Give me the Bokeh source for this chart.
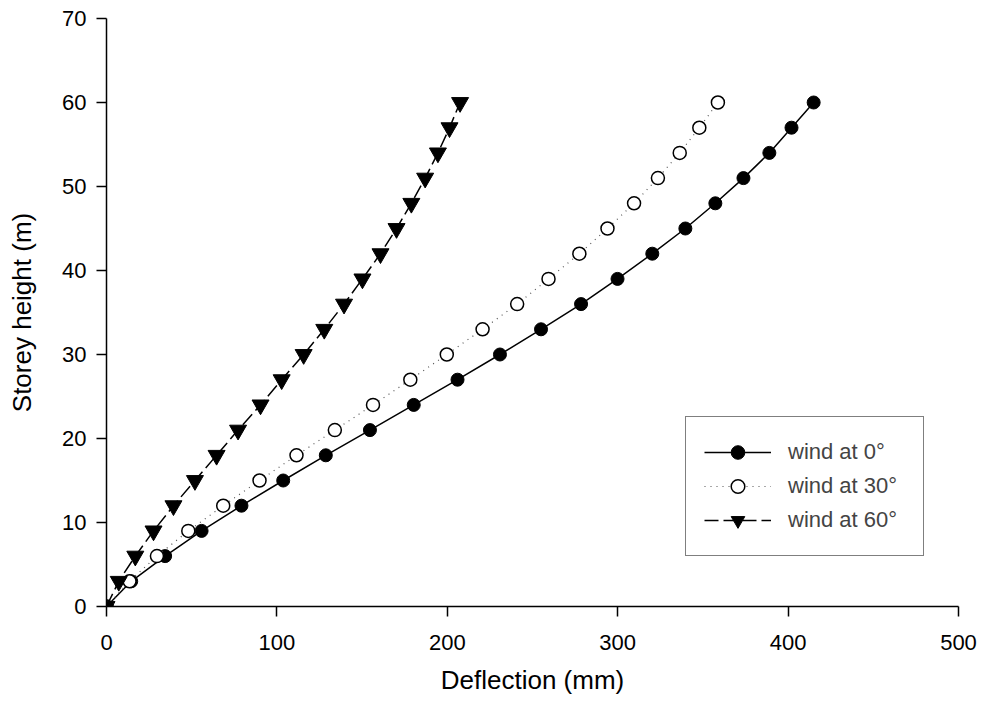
from bokeh.plotting import figure
from bokeh.models import Legend, LegendItem
from bokeh.embed import file_html
from bokeh.resources import INLINE

heights = [0, 3, 6, 9, 12, 15, 18, 21, 24, 27, 30, 33, 36, 39, 42, 45, 48, 51, 54, 57, 60]
wind_0 = [0, 14.5, 34.4, 55.8, 79.2, 103.7, 128.7, 154.6, 180.3, 206.0, 230.9,
          255.0, 278.5, 299.9, 320.3, 339.7, 357.3, 373.8, 389.0, 402.0, 415.0]
wind_30 = [0, 13.5, 29.6, 48.0, 68.5, 89.8, 111.5, 134.0, 156.4, 178.3, 199.7,
           220.7, 241.0, 259.4, 277.5, 294.0, 309.6, 323.6, 336.4, 347.9, 358.8]
wind_60 = [0, 7.2, 16.9, 27.6, 39.3, 51.9, 64.6, 77.2, 90.4, 102.8, 115.7,
           127.8, 139.4, 150.2, 160.8, 170.2, 178.9, 187.0, 194.5, 201.3, 207.5]
labels = ["wind at 0°", "wind at 30°", "wind at 60°"]
x_ticks = [0, 100, 200, 300, 400, 500]
y_ticks = [0, 10, 20, 30, 40, 50, 60, 70]

FONT = "Liberation Sans"

p = figure(width=977, height=703, x_range=(0, 500), y_range=(0, 70),
           output_backend="svg", toolbar_location=None,
           min_border_left=106, min_border_right=19,
           min_border_top=18, min_border_bottom=97)

r0l = p.line(wind_0, heights, line_color="black", line_width=1.5)
r0s = p.scatter(wind_0, heights, marker="circle", size=13,
                fill_color="black", line_color="black", line_width=1)
r30l = p.line(wind_30, heights, line_color="#555555", line_width=1.2, line_dash="1 5")
r30s = p.scatter(wind_30, heights, marker="circle", size=13,
                 fill_color="white", line_color="black", line_width=1.5)
r60l = p.line(wind_60, heights, line_color="black", line_width=1.5, line_dash="14 5")
r60s = p.scatter(wind_60, heights, marker="inverted_triangle", size=17,
                 fill_color="black", line_color="black", line_width=1)

legend = Legend(items=[
    LegendItem(label=labels[0], renderers=[r0l, r0s]),
    LegendItem(label=labels[1], renderers=[r30l, r30s]),
    LegendItem(label=labels[2], renderers=[r60l, r60s]),
], location=(579, 50))
legend.border_line_color = "black"
legend.border_line_width = 1.5
legend.padding = 18
legend.spacing = 0
legend.margin = 0
legend.label_height = 34
legend.glyph_height = 34
legend.glyph_width = 67
legend.label_width = 117
legend.label_standoff = 17
legend.label_text_font = FONT
legend.label_text_font_size = "22px"
legend.background_fill_color = "white"
legend.background_fill_alpha = 1
p.add_layout(legend, "center")

p.xaxis.ticker = x_ticks
p.yaxis.ticker = y_ticks
p.xaxis.axis_label = "Deflection (mm)"
p.yaxis.axis_label = "Storey height (m)"
for ax in (p.xaxis, p.yaxis):
    ax.axis_line_color = "black"
    ax.axis_line_width = 1.5
    ax.major_tick_line_color = "black"
    ax.major_tick_line_width = 1.5
    ax.major_tick_out = 10
    ax.major_tick_in = 0
    ax.minor_tick_line_color = None
    ax.major_label_text_font = FONT
    ax.major_label_text_font_size = "22px"
    ax.major_label_text_color = "black"
    ax.axis_label_text_font = FONT
    ax.axis_label_text_font_size = "26px"
    ax.axis_label_text_font_style = "normal"
    ax.axis_label_text_color = "black"
p.xaxis.major_label_standoff = 18
p.yaxis.major_label_standoff = 10
p.xaxis.axis_label_standoff = 12
p.yaxis.axis_label_standoff = 22

p.xgrid.grid_line_color = None
p.ygrid.grid_line_color = None
p.outline_line_color = None

open("out.html", "w").write(file_html(p, INLINE))
